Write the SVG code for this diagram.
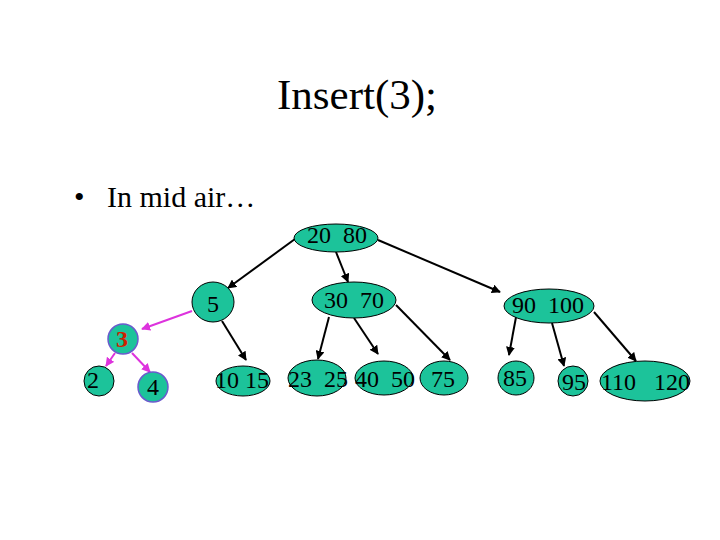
<svg xmlns="http://www.w3.org/2000/svg" width="720" height="540" viewBox="0 0 720 540">
<defs>
<marker id="ah" viewBox="0 0 10 10" refX="9" refY="5" markerWidth="9" markerHeight="9" markerUnits="userSpaceOnUse" orient="auto"><path d="M0,0 L10,5 L0,10 z" fill="#000"/></marker>
<marker id="ahm" viewBox="0 0 10 10" refX="9" refY="5" markerWidth="9" markerHeight="9" markerUnits="userSpaceOnUse" orient="auto"><path d="M0,0 L10,5 L0,10 z" fill="#dd33dd"/></marker>
</defs>
<style>
.n{fill:#1cc39a;stroke:#000;stroke-width:1}
.p{fill:#1cc39a;stroke:#6a5acd;stroke-width:1.5}
.t{font-family:"Liberation Serif","Times New Roman",serif;font-size:24px;fill:#000}
.c{stroke:#000;stroke-width:2;fill:none;marker-end:url(#ah)}
.m{stroke:#dd33dd;stroke-width:2;fill:none;marker-end:url(#ahm)}
</style>
<rect width="720" height="540" fill="#fff"/>
<text x="357" y="109" text-anchor="middle" font-family="Liberation Serif, serif" font-size="43">Insert(3);</text>
<text x="74" y="207" font-family="Liberation Serif, serif" font-size="30">•</text>
<text x="107" y="207" font-family="Liberation Serif, serif" font-size="30">In mid air…</text>
<g id="connectors">
<line class="c" x1="295" y1="239" x2="228" y2="288"/>
<line class="c" x1="336" y1="252" x2="348" y2="282"/>
<line class="c" x1="378" y1="240" x2="500" y2="292"/>
<line class="c" x1="222" y1="321" x2="246" y2="360"/>
<line class="c" x1="329" y1="317" x2="318" y2="359"/>
<line class="c" x1="354" y1="318" x2="378" y2="354"/>
<line class="c" x1="396" y1="305" x2="450" y2="360"/>
<line class="c" x1="516" y1="317" x2="509" y2="355"/>
<line class="c" x1="552" y1="323" x2="564" y2="366"/>
<line class="c" x1="594" y1="312" x2="636" y2="361"/>
<line class="m" x1="192" y1="311" x2="142" y2="329"/>
<line class="m" x1="115" y1="353" x2="106" y2="366"/>
<line class="m" x1="132" y1="353" x2="150" y2="372"/>
</g>
<g id="n2080"><ellipse class="n" cx="336" cy="238" rx="42" ry="14"/><text class="t" x="307" y="243" xml:space="preserve">20  80</text></g>
<g id="n5"><ellipse class="n" cx="213" cy="302" rx="21" ry="20"/><text class="t" x="213" y="312" text-anchor="middle">5</text></g>
<g id="n3070"><ellipse class="n" cx="354" cy="300" rx="42" ry="18"/><text class="t" x="324" y="308" xml:space="preserve">30  70</text></g>
<g id="n90100"><ellipse class="n" cx="549" cy="306" rx="45" ry="17"/><text class="t" x="512" y="313" xml:space="preserve">90  100</text></g>
<g id="n3"><circle class="p" cx="123" cy="339" r="15"/><text x="122" y="347" text-anchor="middle" font-family="Liberation Serif, serif" font-size="24" font-weight="bold" fill="#cc2200">3</text></g>
<g id="n2"><ellipse class="n" cx="99" cy="381" rx="15" ry="15"/><text class="t" x="93" y="388" text-anchor="middle">2</text></g>
<g id="n4"><circle class="p" cx="153" cy="387" r="15"/><text class="t" x="153" y="395" text-anchor="middle">4</text></g>
<g id="n1015"><ellipse class="n" cx="243" cy="381" rx="27" ry="15"/><text class="t" x="215" y="388">10 15</text></g>
<g id="n2325"><ellipse class="n" cx="317" cy="378" rx="29" ry="18"/><text class="t" x="288" y="387" xml:space="preserve">23  25</text></g>
<g id="n4050"><ellipse class="n" cx="384" cy="378" rx="29" ry="17"/><text class="t" x="355" y="387" xml:space="preserve">40  50</text></g>
<g id="n75"><ellipse class="n" cx="444" cy="378" rx="24" ry="17"/><text class="t" x="443" y="387" text-anchor="middle">75</text></g>
<g id="n85"><ellipse class="n" cx="516" cy="378" rx="18" ry="17"/><text class="t" x="515" y="386" text-anchor="middle">85</text></g>
<g id="n95"><ellipse class="n" cx="573" cy="381" rx="15" ry="15"/><text class="t" x="574" y="390" text-anchor="middle">95</text></g>
<g id="n110120"><ellipse class="n" cx="645" cy="381" rx="45" ry="20"/><text class="t" x="601" y="390" xml:space="preserve">110   120</text></g>
</svg>
